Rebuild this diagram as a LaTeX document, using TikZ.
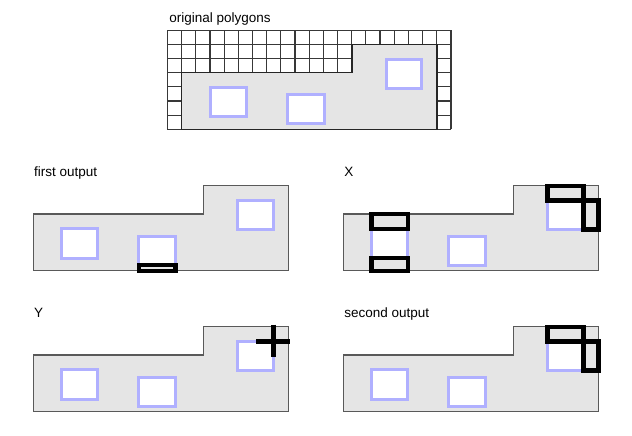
\documentclass[tikz,border=0pt]{standalone}
\usepackage{fontspec}
\setmainfont{Liberation Sans}
\usepackage{tikz}
\definecolor{holeblue}{RGB}{176,176,255}
\colorlet{edgegray}{black!65}
\tikzstyle{poly}=[fill=black!10,draw=edgegray,line width=1.3pt]
\tikzstyle{hole}=[fill=white,draw=holeblue,line width=3pt]
\tikzstyle{gapbox}=[draw=black,line width=4.5pt]
\tikzstyle{gridline}=[draw=black!78,line width=1.2pt]
\tikzstyle{title}=[anchor=base west,inner sep=0pt,font=\fontsize{13.5}{16}\selectfont]
\newcommand\polyholes[1][]{%
	\draw[poly,#1] (0,2) -- (12,2) -- (12,0) -- (18,0) -- (18,6) -- (0,6) -- cycle;
	\draw[hole] (2,3.05) rectangle (4.55,5.1);
	\draw[hole] (7.45,3.55) rectangle (10.05,5.6);
	\draw[hole] (14.42,1.04) rectangle (16.94,3.1);
}
\newcommand\cornergaps{%
	\draw[gapbox] (14.42,0) rectangle (16.94,1.04);
	\draw[gapbox] (16.94,1.04) rectangle (18,3.1);
}

\begin{document}
\begin{tikzpicture}[x=14.17pt,y=-14.17pt]
	\useasboundingbox (0,0) rectangle (44.6,30.7);
	\begin{scope}[shift={(12.82,3.13)}]
		\foreach \i in {-1,...,19} \draw[gridline] (\i,-1) -- (\i,6);
		\foreach \j in {-1,...,6} \draw[gridline] (-1,\j) -- (19,\j);
		\polyholes[draw=black!85,line width=1.6pt]
		\node[title] (orig) at (-0.89,-1.56) {original polygons};
	\end{scope}
	\begin{scope}[shift={(2.35,13.11)}]
		\node[title] (first) at (0.05,-0.64) {first output};
		\polyholes
		\draw[gapbox] (7.45,5.6) rectangle (10.05,6);
	\end{scope}
	\begin{scope}[shift={(24.23,13.11)}]
		\node[title] (xout) at (0.05,-0.64) {X};
		\polyholes
		\draw[gapbox] (2,2) rectangle (4.55,3.05);
		\draw[gapbox] (2,5.1) rectangle (4.55,6);
		\cornergaps
	\end{scope}
	\begin{scope}[shift={(2.35,23.06)}]
		\node[title] (yout) at (0.05,-0.64) {Y};
		\polyholes
		\draw[gapbox] (15.75,1.04) -- (18.15,1.04) (16.94,-0.15) -- (16.94,2.15);
	\end{scope}
	\begin{scope}[shift={(24.23,23.06)}]
		\node[title] (second) at (0.05,-0.64) {second output};
		\polyholes
		\cornergaps
	\end{scope}
\end{tikzpicture}
\end{document}
